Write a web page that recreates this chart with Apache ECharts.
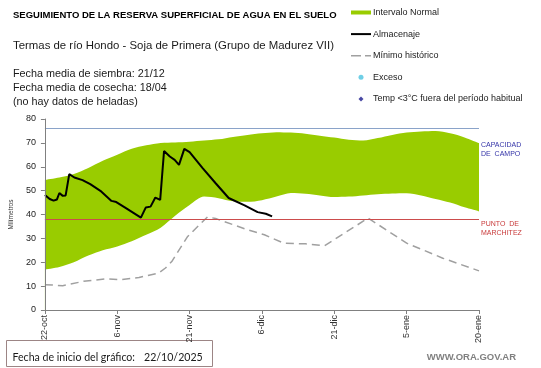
<!DOCTYPE html>
<html>
<head>
<meta charset="utf-8">
<script src="https://cdn.jsdelivr.net/npm/echarts@6/dist/echarts.min.js"></script>
<style>
html,body{margin:0;padding:0;background:#fff;}
#chart{width:541px;height:368px;}
</style>
</head>
<body>
<div id="chart"></div>
<script>
// ---- data ----
const xTickLabels = ['22-oct', '6-nov', '21-nov', '6-dic', '21-dic', '5-ene', '20-ene']; // every 15 days from 22/10
const yTicks = [0, 10, 20, 30, 40, 50, 60, 70, 80];

const bandDays  = [0, 3, 6, 9, 12, 15, 18, 21, 24, 27, 30, 33, 36, 39, 42, 45, 48, 51, 54, 57, 60, 63, 66, 69, 72, 75, 78, 81, 84, 87, 90];
const bandUpper = [54.5, 55.5, 57, 59.5, 62.5, 65, 67.5, 69, 70, 70.2, 70.5, 71, 71.5, 72.5, 73.3, 74, 74.5, 74.3, 73.8, 73, 72.2, 71.3, 71, 72, 73.3, 74.3, 74.8, 75, 74, 72.3, 69.9];
const bandLower = [16.9, 18, 20, 22.8, 25, 26.6, 28.8, 31.5, 34.5, 39.5, 44, 47.5, 46.8, 45.5, 45.3, 46, 47.5, 49, 48.7, 48, 47.3, 47.5, 48, 48.5, 48.8, 48.9, 48, 46.5, 45, 43, 41.3];

const minDays   = [0, 3.7, 8, 12.8, 15.5, 19.5, 23.6, 25, 26.3, 29.6, 33.7, 35.4, 42, 45.5, 49.5, 54, 58, 67, 75, 82.5, 90];
const minValues = [10.6, 10.2, 12, 13.1, 12.7, 13.6, 15.5, 17.6, 20.3, 30.8, 39, 38.3, 33.6, 31.5, 28, 27.7, 26.9, 38.5, 28, 21.7, 16.4];

const storageDays   = [0, 1, 1.8, 2.5, 3, 3.7, 4.3, 5.05, 6.1, 7.8, 9.4, 11.5, 13.8, 14.8, 16.8, 19.9, 20.9, 21.9, 22.9, 23.9, 24.7, 25.9, 26.9, 27.8, 28.9, 30, 32.7, 35.4, 38.1, 41.4, 44.1, 45.8, 47.1];
const storageValues = [48.2, 46.5, 45.8, 46.3, 49, 47.8, 48, 56.9, 55.5, 54.4, 52.7, 49.9, 45.7, 45.2, 42.7, 38.7, 42.9, 43.3, 47.1, 46.1, 66.6, 64.3, 62.9, 60.8, 67.5, 66.1, 59.4, 53.1, 46.9, 43.8, 41, 40.3, 39.2];

const excesoPoints = [];
const heladaPoints = [];

const capacidadCampo = 76;
const puntoMarchitez = 38;

// ---- chart ----
const zip = (xs, ys) => xs.map((x, i) => [x, ys[i]]);
const FONT = '"Liberation Sans", Arial, sans-serif';

function refLineSeries(name, value, color) {
  return {
    name: name,
    type: 'line',
    data: [],
    symbol: 'none',
    color: color,
    itemStyle: {color: color},
    lineStyle: {color: color, width: 1},
    markLine: {
      silent: true,
      symbol: 'none',
      label: {show: false},
      lineStyle: {color: color, width: 1, type: 'solid', opacity: 1},
      emphasis: {disabled: true},
      data: [{yAxis: value}]
    },
    z: 2
  };
}

const chart = echarts.init(document.getElementById('chart'), null, {renderer: 'canvas'});

chart.setOption({
  animation: false,
  backgroundColor: '#ffffff',
  grid: {left: 33, right: 62, top: 119, bottom: 58},
  legend: {
    orient: 'vertical',
    left: 351,
    top: 7.5,
    padding: 0,
    itemWidth: 20,
    itemHeight: 5,
    itemGap: 11.6,
    selectedMode: false,
    textStyle: {fontFamily: FONT, fontSize: 9, color: '#222', lineHeight: 10, padding: [0, 0, 0, -3]},
    data: [
      {name: 'Intervalo Normal', icon: 'path://M0,0H20V4H0Z', itemStyle: {color: '#99cc00'}},
      {name: 'Almacenaje', icon: 'path://M0,0H20V2H0Z', itemStyle: {color: '#000000'}},
      {name: 'Mínimo histórico', icon: 'path://M0,0H10V1.6H0Z M14,0H20V1.6H14Z', itemStyle: {color: '#a0a0a0'}},
      {name: 'Exceso', icon: 'circle', itemStyle: {color: '#4bc3e0'}},
      {name: 'Temp <3°C fuera del período habitual', icon: 'path://M2.5,0L5,2.5L2.5,5L0,2.5Z', itemStyle: {color: '#1a1a8c'}}
    ]
  },
  xAxis: {
    type: 'value',
    min: 0,
    max: 90,
    interval: 15,
    z: 5,
    splitLine: {show: false},
    axisLine: {lineStyle: {color: '#808080', width: 1}},
    axisTick: {show: true, length: 4, lineStyle: {color: '#808080'}},
    axisLabel: {
      rotate: 90,
      margin: 5,
      fontFamily: FONT,
      fontSize: 9,
      color: '#333',
      formatter: v => xTickLabels[Math.round(v / 15)] || ''
    }
  },
  yAxis: {
    type: 'value',
    min: yTicks[0],
    max: yTicks[yTicks.length - 1],
    interval: 10,
    z: 5,
    name: 'Milímetros',
    nameLocation: 'middle',
    nameGap: 23,
    nameTextStyle: {fontFamily: FONT, fontSize: 6.5, color: '#333'},
    splitLine: {show: false},
    axisLine: {show: true, lineStyle: {color: '#808080', width: 1}},
    axisTick: {show: true, length: 4, lineStyle: {color: '#808080'}},
    axisLabel: {margin: 9, fontFamily: FONT, fontSize: 9, color: '#222'}
  },
  series: [
    {
      name: 'Intervalo Normal',
      type: 'line',
      data: zip(bandDays, bandUpper),
      symbol: 'none',
      smooth: 0.3,
      lineStyle: {width: 0, opacity: 0},
      itemStyle: {color: '#99cc00'},
      areaStyle: {color: '#99cc00', opacity: 1},
      silent: true,
      z: 0
    },
    {
      name: 'bandBase',
      type: 'line',
      data: zip(bandDays, bandLower),
      symbol: 'none',
      smooth: 0.3,
      lineStyle: {width: 0, opacity: 0},
      itemStyle: {color: '#ffffff'},
      areaStyle: {color: '#ffffff', opacity: 1},
      silent: true,
      z: 1
    },
    refLineSeries('Capacidad de campo', capacidadCampo, '#8aa3c9'),
    refLineSeries('Punto de marchitez', puntoMarchitez, '#cc4c4c'),
    {
      name: 'Mínimo histórico',
      type: 'line',
      data: zip(minDays, minValues),
      symbol: 'none',
      itemStyle: {color: '#a0a0a0'},
      lineStyle: {color: '#a0a0a0', width: 1.5, type: [8, 5]},
      z: 3
    },
    {
      name: 'Almacenaje',
      type: 'line',
      data: zip(storageDays, storageValues),
      symbol: 'none',
      itemStyle: {color: '#000'},
      lineStyle: {color: '#000', width: 2},
      z: 4
    },
    {
      name: 'Exceso',
      type: 'scatter',
      data: excesoPoints,
      symbolSize: 4,
      itemStyle: {color: '#4bc3e0'}
    },
    {
      name: 'Temp <3°C fuera del período habitual',
      type: 'scatter',
      data: heladaPoints,
      symbol: 'diamond',
      symbolSize: 5,
      itemStyle: {color: '#1a1a8c'}
    }
  ],
  graphic: [
    {type: 'text', silent: true, style: {text: 'SEGUIMIENTO DE LA RESERVA SUPERFICIAL DE AGUA EN EL SUELO', x: 13, y: 15.6, verticalAlign: 'middle', font: 'bold 9.5px ' + FONT, fill: '#000'}},
    {type: 'text', silent: true, style: {text: 'Termas de río Hondo - Soja de Primera (Grupo de Madurez VII)', x: 13, y: 45.7, verticalAlign: 'middle', font: '11.4px ' + FONT, fill: '#1a1a1a'}},
    {type: 'text', silent: true, style: {text: 'Fecha media de siembra: 21/12', x: 13, y: 73.7, verticalAlign: 'middle', font: '10.8px ' + FONT, fill: '#1a1a1a'}},
    {type: 'text', silent: true, style: {text: 'Fecha media de cosecha: 18/04', x: 13, y: 87.8, verticalAlign: 'middle', font: '10.8px ' + FONT, fill: '#1a1a1a'}},
    {type: 'text', silent: true, style: {text: '(no hay datos de heladas)', x: 13, y: 101.9, verticalAlign: 'middle', font: '10.8px ' + FONT, fill: '#1a1a1a'}},
    {type: 'text', silent: true, style: {text: 'CAPACIDAD\nDE  CAMPO', x: 481, y: 140.2, verticalAlign: 'top', font: '7px ' + FONT, lineHeight: 9, fill: '#3434a8'}},
    {type: 'text', silent: true, style: {text: 'PUNTO  DE\nMARCHITEZ', x: 481, y: 219.8, verticalAlign: 'top', font: '7px ' + FONT, lineHeight: 9, fill: '#c83a3a'}},
    {type: 'rect', silent: true, shape: {x: 6.5, y: 340.5, width: 206, height: 26}, style: {fill: '#fff', stroke: '#9c8585', lineWidth: 1}},
    {type: 'text', silent: true, style: {text: 'Fecha de inicio del gráfico:', x: 12.5, y: 358, verticalAlign: 'middle', font: '10.6px Lato, ' + FONT, fill: '#1a1a1a'}},
    {type: 'text', silent: true, style: {text: '22/10/2025', x: 144, y: 358, verticalAlign: 'middle', font: '10.6px Lato, ' + FONT, fill: '#1a1a1a'}},
    {type: 'text', silent: true, style: {text: 'WWW.ORA.GOV.AR', x: 426.7, y: 357.3, verticalAlign: 'middle', font: 'bold 9.5px ' + FONT, fill: '#808080'}}
  ]
});
</script>
</body>
</html>
